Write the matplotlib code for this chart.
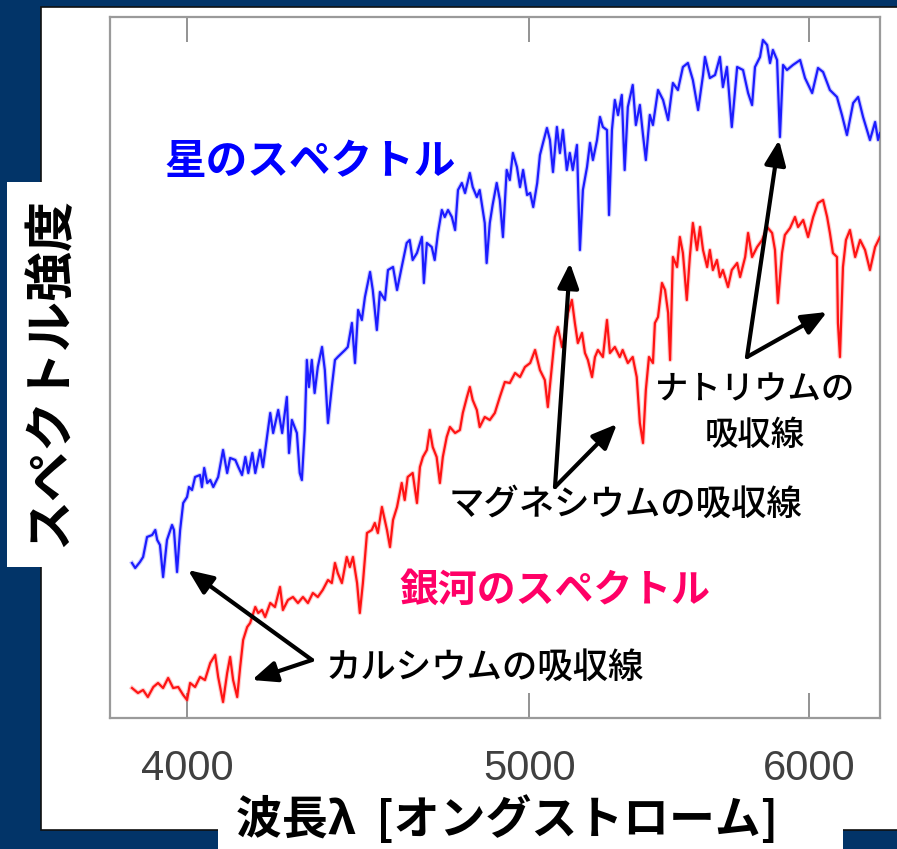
import matplotlib
matplotlib.use("Agg")
import matplotlib.pyplot as plt
from matplotlib.patches import Rectangle
from matplotlib.ticker import FixedLocator, FixedFormatter, NullLocator

plt.rcParams['font.family'] = ['Noto Sans CJK JP', 'DejaVu Sans']

# Stellar spectrum: wavelength [Angstrom] and relative intensity
star_wavelength = [
    3859, 3867, 3879, 3887, 3897, 3910, 3918, 3923, 3930, 3938,
    3948, 3961, 3966, 3974, 3982, 3990, 4000, 4005, 4013, 4021,
    4034, 4039, 4045, 4053, 4061, 4069, 4082, 4095, 4106, 4114,
    4128, 4136, 4146, 4155, 4163, 4174, 4182, 4195, 4203, 4214,
    4223, 4231, 4245, 4256, 4269, 4275, 4283, 4297, 4305, 4311,
    4319, 4325, 4331, 4339, 4347, 4356, 4368, 4376, 4385, 4396,
    4405, 4413, 4425, 4434, 4442, 4454, 4463, 4472, 4483, 4492,
    4507, 4515, 4527, 4536, 4551, 4560, 4575, 4587, 4601, 4616,
    4625, 4634, 4647, 4662, 4668, 4677, 4692, 4701, 4711, 4723,
    4732, 4742, 4754, 4764, 4773, 4785, 4795, 4810, 4819, 4832,
    4841, 4857, 4863, 4873, 4882, 4895, 4905, 4915, 4927, 4937,
    4947, 4960, 4970, 4980, 4993, 5003, 5013, 5026, 5035, 5045,
    5058, 5068, 5078, 5091, 5101, 5111, 5124, 5134, 5144, 5158,
    5168, 5178, 5192, 5202, 5212, 5226, 5236, 5246, 5260, 5267,
    5277, 5287, 5298, 5311, 5321, 5332, 5349, 5360, 5374, 5385,
    5395, 5409, 5420, 5438, 5456, 5474, 5491, 5509, 5527, 5545,
    5563, 5582, 5600, 5607, 5625, 5644, 5662, 5673, 5688, 5706,
    5726, 5748, 5767, 5782, 5793, 5812, 5823, 5839, 5850, 5861,
    5877, 5888, 5900, 5915, 5938, 5966, 5985, 6013, 6036, 6056,
    6083, 6111, 6131, 6151, 6176, 6196, 6216, 6244, 6265, 6277,
    6285,
]
star_flux = [
    155, 150, 156, 161, 181, 183, 188, 178, 173, 141,
    178, 193, 188, 146, 188, 215, 221, 231, 228, 241,
    243, 231, 250, 235, 238, 231, 241, 268, 245, 260,
    258, 251, 243, 261, 245, 265, 245, 268, 251, 281,
    305, 285, 308, 285, 321, 265, 298, 285, 245, 238,
    288, 358, 331, 358, 325, 351, 371, 348, 295, 331,
    358, 361, 365, 368, 371, 395, 355, 408, 398, 421,
    446, 428, 388, 426, 418, 448, 451, 428, 451, 475,
    478, 458, 465, 481, 435, 475, 471, 458, 485, 508,
    501, 508, 501, 488, 528, 535, 525, 545, 531, 521,
    528, 495, 455, 495, 513, 535, 518, 481, 548, 538,
    565, 551, 531, 548, 523, 525, 511, 535, 563, 575,
    590, 578, 546, 591, 565, 588, 548, 565, 548, 573,
    468, 528, 551, 575, 558, 578, 601, 591, 588, 503,
    588, 618, 603, 623, 548, 611, 633, 593, 613, 583,
    558, 603, 593, 628, 618, 598, 635, 628, 651, 655,
    638, 608, 643, 661, 640, 643, 661, 631, 651, 591,
    651, 648, 625, 613, 651, 661, 678, 673, 655, 668,
    658, 581, 653, 648, 653, 658, 640, 625, 650, 646,
    628, 621, 603, 583, 615, 621, 601, 578, 596, 578,
    585,
]

# Galaxy spectrum: wavelength [Angstrom] and relative intensity
galaxy_wavelength = [
    3859, 3874, 3887, 3899, 3913, 3925, 3938, 3951, 3964, 3977,
    3990, 4000, 4008, 4021, 4034, 4047, 4061, 4074, 4082, 4095,
    4106, 4114, 4122, 4133, 4141, 4149, 4160, 4168, 4182, 4190,
    4200, 4209, 4223, 4236, 4250, 4258, 4272, 4286, 4300, 4314,
    4328, 4342, 4356, 4370, 4385, 4396, 4405, 4413, 4425, 4439,
    4448, 4457, 4469, 4477, 4486, 4498, 4512, 4521, 4530, 4542,
    4557, 4566, 4575, 4587, 4601, 4610, 4619, 4634, 4647, 4656,
    4665, 4677, 4686, 4695, 4707, 4717, 4726, 4738, 4748, 4764,
    4779, 4788, 4801, 4810, 4819, 4832, 4841, 4857, 4873, 4889,
    4905, 4921, 4937, 4954, 4970, 4986, 5003, 5019, 5035, 5051,
    5061, 5074, 5084, 5094, 5108, 5118, 5128, 5141, 5151, 5161,
    5175, 5185, 5195, 5209, 5219, 5229, 5246, 5260, 5270, 5287,
    5304, 5314, 5332, 5349, 5363, 5374, 5385, 5395, 5406, 5420,
    5427, 5438, 5452, 5463, 5474, 5481, 5491, 5506, 5516, 5527,
    5541, 5552, 5563, 5578, 5589, 5600, 5615, 5625, 5636, 5651,
    5662, 5673, 5692, 5706, 5726, 5737, 5756, 5767, 5782, 5801,
    5820, 5839, 5858, 5869, 5880, 5896, 5907, 5927, 5946, 5958,
    5978, 5997, 6017, 6036, 6056, 6072, 6083, 6095, 6111, 6115,
    6123, 6135, 6147, 6163, 6184, 6204, 6224, 6244, 6265, 6285,
]
galaxy_flux = [
    30, 25, 28, 21, 31, 35, 30, 40, 30, 31,
    23, 18, 35, 31, 41, 38, 55, 63, 41, 16,
    45, 61, 38, 21, 51, 78, 91, 95, 111, 105,
    108, 101, 115, 111, 131, 108, 118, 121, 115, 121,
    115, 125, 121, 128, 138, 135, 155, 145, 135, 161,
    151, 161, 135, 105, 135, 185, 188, 195, 185, 211,
    188, 171, 198, 211, 235, 218, 241, 245, 215, 251,
    261, 268, 288, 271, 261, 235, 261, 281, 291, 285,
    288, 305, 321, 331, 318, 308, 291, 301, 298, 305,
    321, 336, 335, 345, 341, 351, 355, 368, 348, 338,
    311, 351, 381, 391, 371, 385, 405, 418, 395, 375,
    385, 365, 358, 341, 361, 368, 361, 398, 365, 371,
    361, 368, 355, 361, 341, 295, 275, 328, 361, 355,
    395, 401, 435, 428, 405, 358, 461, 451, 481, 465,
    418, 461, 495, 468, 491, 468, 451, 468, 448, 458,
    441, 448, 431, 448, 455, 441, 461, 485, 461, 471,
    478, 491, 485, 468, 415, 465, 483, 490, 501, 491,
    498, 481, 501, 515, 518, 501, 485, 465, 461, 395,
    361, 451, 478, 488, 461, 478, 468, 448, 471, 481,
]

tick_wavelengths = [4000, 5000, 6000]
tick_labels = ['4000', '5000', '6000']

W, H = 897, 849
NAVY = '#023468'
fig = plt.figure(figsize=(W / 100, H / 100), dpi=100, facecolor=NAVY)


def fxy(x, y):
    """Pixel position (from the top-left corner) to figure fraction."""
    return x / W, 1 - y / H


def panel(x0, y0, x1, y1, edge='none', lw=0):
    (a, b), (c, d) = fxy(x0, y1), fxy(x1, y0)
    fig.patches.append(Rectangle((a, b), c - a, d - b, transform=fig.transFigure,
                                 facecolor='white', edgecolor=edge, lw=lw,
                                 zorder=-5))


# white slide panels (kept beneath the axes)
panel(41, 7, 905, 830, edge='#101010', lw=1.2)
panel(7, 182, 44, 567)
panel(218, 826, 843, 855)

# spectrum axes
l, b = fxy(110, 718)
r, t = fxy(880, 17)
ax = fig.add_axes([l, b, r - l, t - b])
ax.set_facecolor('white')
ax.set_xscale('log')
# soft halo under each trace, then the trace itself
ax.plot(star_wavelength, star_flux, color='#5a5aff', lw=3.2, alpha=0.3, zorder=2)
ax.plot(star_wavelength, star_flux, color='#1c1cff', lw=1.6, zorder=3)
ax.plot(galaxy_wavelength, galaxy_flux, color='#ff5050', lw=3.2, alpha=0.3, zorder=2)
ax.plot(galaxy_wavelength, galaxy_flux, color='#ff1414', lw=1.6, zorder=3)
ax.set_xlim(3804, 6285)
ax.set_ylim(0, 701)

ax.xaxis.set_major_locator(FixedLocator(tick_wavelengths))
ax.xaxis.set_major_formatter(FixedFormatter(tick_labels))
ax.xaxis.set_minor_locator(NullLocator())
ax.set_yticks([])
ax.tick_params(axis='x', which='major', direction='in', length=18, width=1.3,
               color='#8a8a8a', top=True, labelsize=30, labelcolor='#404040',
               pad=22)
for lab in ax.get_xticklabels():
    lab.set_fontfamily('Liberation Sans')
for s in ax.spines.values():
    s.set_color('#9a9a9a')
    s.set_linewidth(1.6)

# axis titles
fig.text(*fxy(50, 372), 'スペクトル強度', rotation=90, ha='center', va='center',
         fontsize=36, fontweight='bold', color='black')
fig.text(*fxy(507, 820), '波長λ  [オングストローム]', ha='center', va='center',
         fontsize=33, fontweight='bold', color='black')

# series labels
fig.text(*fxy(310, 162), '星のスペクトル', ha='center', va='center',
         fontsize=30, fontweight='bold', color='#0000ff')
fig.text(*fxy(555, 590), '銀河のスペクトル', ha='center', va='center',
         fontsize=28, fontweight='bold', color='#ff0066')

# absorption line notes
fig.text(*fxy(485, 668), 'カルシウムの吸収線', ha='center', va='center',
         fontsize=25.5, fontweight='medium', color='black')
fig.text(*fxy(625, 505), 'マグネシウムの吸収線', ha='center', va='center',
         fontsize=25.5, fontweight='medium', color='black')
fig.text(*fxy(755, 390), 'ナトリウムの', ha='center', va='center',
         fontsize=24, fontweight='medium', color='black')
fig.text(*fxy(755, 435), '吸収線', ha='center', va='center',
         fontsize=24, fontweight='medium', color='black')

arrow_style = dict(arrowstyle='-|>,head_length=0.75,head_width=0.32', lw=3,
                   color='black', shrinkA=0, shrinkB=0, mutation_scale=20)
arrows = [
    ((312, 660), (188, 570)),
    ((312, 660), (252, 680)),
    ((555, 487), (570, 263)),
    ((555, 487), (617, 424)),
    ((747, 357), (779, 140)),
    ((747, 357), (827, 312)),
]
for tail, head in arrows:
    ax.annotate('', xy=fxy(*head), xytext=fxy(*tail), xycoords='figure fraction',
                textcoords='figure fraction', arrowprops=arrow_style,
                annotation_clip=False, zorder=5)

fig.savefig('out.png', dpi=100, facecolor=NAVY)
